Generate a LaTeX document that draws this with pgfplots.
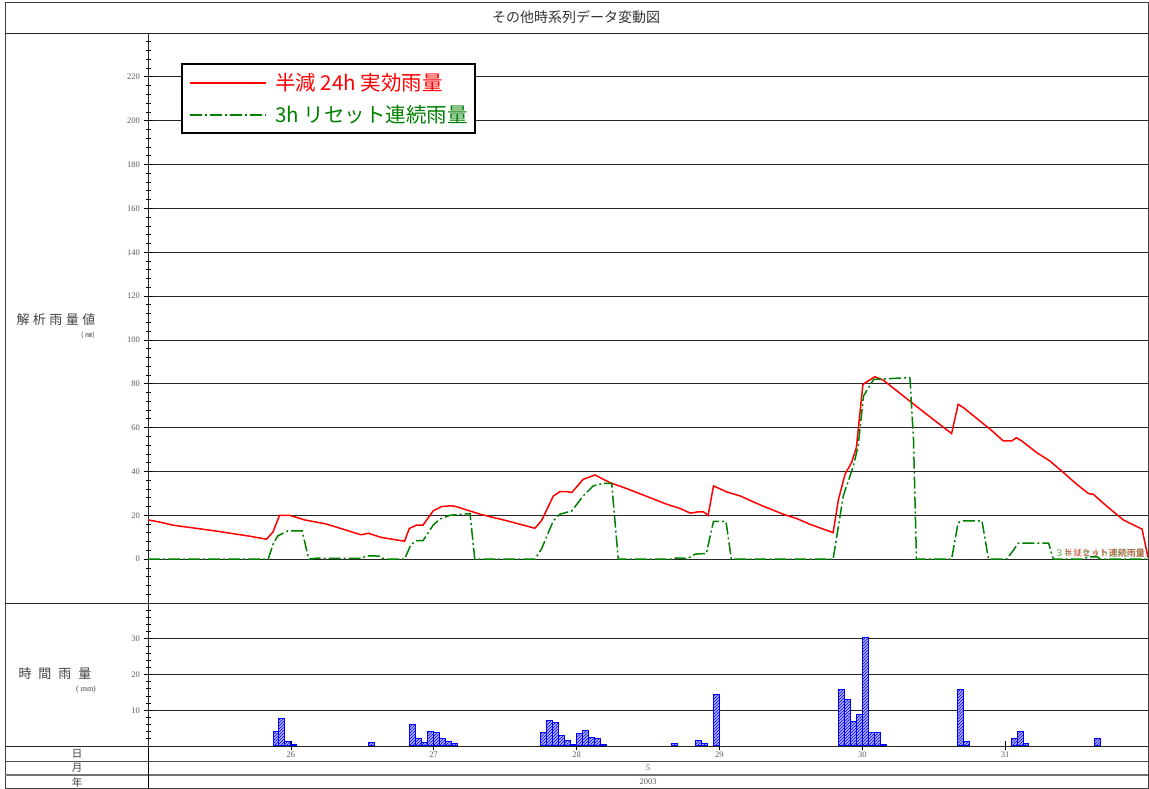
\documentclass[border=0pt]{standalone}
\usepackage{fontspec}
\setmainfont{Liberation Serif}
\newfontfamily\jp{Noto Sans CJK JP}
\usepackage{pgfplots}
\pgfplotsset{compat=1.18}
\usetikzlibrary{patterns}
\definecolor{dgreen}{RGB}{0,128,0}
\definecolor{labgray}{RGB}{90,90,90}

% hourly values, x = hours from 25th 00:00
\pgfplotstableread{
h v
0 17.9
2 16.9
4.2 15.5
11.2 12.9
16.8 10.6
19.9 9.1
21 12.4
22.1 20
23.8 20
26.3 17.9
30 16
35.8 11.1
37 11.8
39.2 9.9
43.1 8.2
43.9 14
45.1 15.5
46.2 15.5
47.9 22
49.3 24
50.7 24.3
51.5 24.2
55.8 20.5
60.3 17.5
65 14.1
66.1 17.5
68.1 28.8
69.2 30.8
70.3 30.8
71.2 30.4
73.1 36.4
75.1 38.4
77.6 34.9
80.4 32.2
83.8 28.6
87.1 25.1
89.4 23.1
91.1 21
92.5 21.6
93.3 21.6
94.1 20
95 33.4
97.2 30.7
99.5 28.8
102.8 24.8
106.7 20.5
109 18.5
111.2 15.9
115.1 12.1
116 27.3
117.1 38.7
118.2 44.1
119 50.9
120.1 79.7
122.1 83.2
123.5 81.7
126.9 74.4
130.8 66.1
135 57.3
136.1 70.6
137 69.1
141.5 59.2
143.7 53.9
145.1 53.9
145.9 55.4
146.8 53.9
149.3 48.6
151.5 44.8
153.8 39.5
156 34.2
158 29.9
158.8 29.6
161 24.3
163.9 17.8
167 13.7
168 0.8
}\halflife

\pgfplotstableread{
h v
0 0
20.2 0
21 6.8
21.8 10.6
23.5 12.9
25.9 12.9
27 0
28.5 0.5
30 0.3
36 0.3
36.4 1.2
37.2 1.5
38.9 1.4
39.7 0
43.1 0
44.2 6.8
45.1 8.4
46.2 8.4
47.9 15.5
49 18.2
50.7 20
54.1 20.8
54.9 0
65 0
66.1 4.6
68.1 17.5
69.2 20.5
71.2 22
73.1 28.8
74.8 33.4
76.5 34.6
77.9 34.6
79 0
87.7 0
88.5 0.5
90 0.5
90.5 0
91.9 2.3
93.8 2.6
95 17.2
97.1 17.2
98 0
115.1 0
116.8 28.8
118.5 42.5
119.3 51.6
120.2 74.4
121.9 82
128 82.8
128.6 54.7
129.1 0
135 0
136.1 16.7
137 17.5
140.1 17.5
141.2 0
144.2 0
145.1 3
146.2 7.3
151.3 7.3
152.1 0
157 0
158 1
159.5 1
160 0
168 0
}\reset

\pgfplotstableread{
h v
21.5 4.0
22.5 7.8
23.5 1.3
24.5 0.3
37.5 1.0
44.5 6.1
45.5 2.2
46.5 0.9
47.5 4.0
48.5 3.9
49.5 2.0
50.5 1.3
51.5 0.6
66.5 3.9
67.5 7.0
68.5 6.7
69.5 2.8
70.5 1.5
71.5 0.3
72.5 3.4
73.5 4.2
74.5 2.5
75.5 2.1
76.5 0.4
88.5 0.6
92.5 1.5
93.5 0.8
95.5 14.4
116.5 15.7
117.5 13.0
118.5 6.8
119.5 8.7
120.5 30.3
121.5 3.9
122.5 3.9
123.5 0.3
136.5 15.8
137.5 1.2
145.5 2.0
146.5 4.1
147.5 0.8
159.5 2.0
}\hourly

\tikzset{
  halfstyle/.style={red, line width=1.5pt},
  resetstyle/.style={dgreen, line width=1.5pt, dash pattern=on 12pt off 3pt on 2pt off 3pt},
}

\pgfplotsset{
  frame/.style={
    scale only axis, width=1000pt,
    xmin=0, xmax=168,
    axis line style={black!85, line width=0.8pt},
    ymajorgrids, major grid style={black!85, line width=0.8pt},
    tick align=center, ytick pos=left,
    major tick length=9pt, minor tick length=5pt,
    every tick/.style={black, line width=0.7pt},
    /pgf/number format/assume math mode=true,
    yticklabel style={font=\fontsize{8.5}{9}\selectfont, text=labgray},
  }
}

\begin{document}
\begin{tikzpicture}

% analysed rainfall
\begin{axis}[frame,
  at={(148pt,186pt)}, anchor=south west, height=570pt,
  ymin=-20, ymax=240,
  xtick=\empty,
  ytick={0,20,...,220},
  minor ytick={-20,-16,...,240},
  clip mode=individual,
]
\addplot[halfstyle] table {\halflife};
\addplot[resetstyle] table {\reset};
\node[anchor=south east, font=\jp\fontsize{9}{9}\selectfont, text=dgreen, opacity=0.75, inner sep=0pt] at (axis cs:167.5,0.6) {３ｈリセット連続雨量};
\node[anchor=south east, font=\jp\fontsize{9}{9}\selectfont, text=red, opacity=0.6, inner sep=0pt] at (axis cs:167.5,0.6) {半減２４ｈ実効雨量};
% legend box
\node[anchor=north west, draw=black, line width=1.8pt, fill=white,
  inner xsep=7pt, inner ysep=9pt, align=left,
  font=\jp\fontsize{20.5}{24}\selectfont] at (rel axis cs:0.033,0.947)
  {\tikz[baseline=-0.65ex]\draw[halfstyle] (0pt,0pt) -- (76pt,0pt);\hspace{9pt}\textcolor{red}{半減 24h 実効雨量}\\[8pt]
   \tikz[baseline=-0.65ex]\draw[resetstyle] (0pt,0pt) -- (76pt,0pt);\hspace{9pt}\textcolor{dgreen}{3h リセット連続雨量}};
\end{axis}

% hourly rainfall
\begin{axis}[frame,
  at={(148pt,43pt)}, anchor=south west, height=143pt,
  ymin=0, ymax=40,
  ytick={10,20,30},
  minor ytick={0,2,...,40},
  xtick={24,48,...,144},
  xticklabels={26,27,28,29,30,31},
  xtick pos=bottom,
  xticklabel style={font=\fontsize{8.5}{9}\selectfont, text=labgray, anchor=center, yshift=-4pt},
]
\addplot[ybar, bar width=1, bar shift=0pt, draw=blue, line width=1pt,
  fill=blue!30, postaction={pattern=north east lines, pattern color=blue}] table {\hourly};
\end{axis}

% frame and rows
\draw[black!75, line width=1pt] (5pt,0pt) rectangle (1148pt,786pt);
\draw[black!85, line width=0.8pt] (5pt,756pt) -- (1148pt,756pt);
\draw[black!85, line width=0.8pt] (5pt,186pt) -- (148pt,186pt);
\draw[black!85, line width=0.8pt] (5pt,43pt) -- (1148pt,43pt);
\draw[black!70, line width=0.8pt] (5pt,28pt) -- (1148pt,28pt);
\draw[black!55, line width=1.2pt] (5pt,14pt) -- (1148pt,14pt);
\draw[black, line width=0.8pt] (148pt,0pt) -- (148pt,43pt);

\node[font=\jp\fontsize{14}{15}\selectfont, text=black!80] at (576pt,772pt) {その他時系列データ変動図};
\node[font=\jp\fontsize{13}{14}\selectfont, text=black!75] at (56pt,469pt) {解\hspace{3.5pt}析\hspace{3.5pt}雨\hspace{3.5pt}量\hspace{3.5pt}値};
\node[font=\jp\fontsize{7}{8}\selectfont, text=black!75] at (88pt,454pt) {(\hspace{2pt}㎜)};
\node[font=\jp\fontsize{13}{14}\selectfont, text=black!75] at (55pt,115pt) {時\hspace{7pt}間\hspace{7pt}雨\hspace{7pt}量};
\node[font=\fontsize{8}{9}\selectfont, text=black!75] at (86pt,99pt) {(\hspace{2pt}mm)};
\node[font=\jp\fontsize{10.5}{11}\selectfont, text=black!75] at (77pt,35.5pt) {日};
\node[font=\jp\fontsize{10.5}{11}\selectfont, text=black!75] at (77pt,21.5pt) {月};
\node[font=\jp\fontsize{10.5}{11}\selectfont, text=black!75] at (77pt,7pt) {年};
\node[font=\fontsize{8.5}{9}\selectfont, text=labgray] at (648pt,21.5pt) {5};
\node[font=\fontsize{8.5}{9}\selectfont, text=labgray] at (648pt,7pt) {2003};

\pgfresetboundingbox
\useasboundingbox (0pt,0pt) rectangle (1149pt,789pt);
\end{tikzpicture}
\end{document}
